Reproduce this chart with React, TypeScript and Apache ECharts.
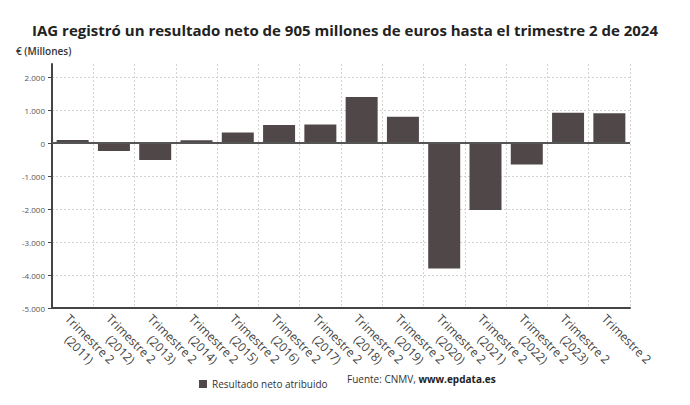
import React, { useEffect, useRef } from "react";
import * as echarts from "echarts";

const categories = [
  "Trimestre 2\n(2011)",
  "Trimestre 2\n(2012)",
  "Trimestre 2\n(2013)",
  "Trimestre 2\n(2014)",
  "Trimestre 2\n(2015)",
  "Trimestre 2\n(2016)",
  "Trimestre 2\n(2017)",
  "Trimestre 2\n(2018)",
  "Trimestre 2\n(2019)",
  "Trimestre 2\n(2020)",
  "Trimestre 2\n(2021)",
  "Trimestre 2\n(2022)",
  "Trimestre 2\n(2023)",
  "Trimestre 2",
];

const resultadoNeto = [95, -235, -515, 90, 323, 550, 565, 1402, 802, -3800, -2025, -645, 924, 905];

const yTicks = { min: -5000, max: 2400, interval: 1000 };

const FONT = "'Open Sans', 'Noto Sans', sans-serif";
const GRID = "#d2d2d2";

export default function App() {
  const ref = useRef<HTMLDivElement>(null);
  useEffect(() => {
    document.body.style.margin = "0";
    if (!ref.current) return;
    const chart = echarts.init(ref.current, null, { renderer: "svg" });
    const nLines = Math.floor((yTicks.max - yTicks.min) / yTicks.interval) + 2;
    const hColors = Array.from({ length: nLines }, (_, i) => (i === nLines - 1 ? "rgba(0,0,0,0)" : GRID));
    chart.setOption({
      animation: false,
      textStyle: { fontFamily: FONT },
      title: {
        text: "IAG registró un resultado neto de 905 millones de euros hasta el trimestre 2 de 2024",
        left: "center",
        top: 17,
        textStyle: { fontSize: 15, fontWeight: "bold", color: "#222", fontFamily: FONT },
      },
      graphic: [
        {
          type: "text",
          left: 16,
          top: 46,
          style: { text: "€ (Millones)", fontSize: 10, fontWeight: 600, fill: "#333", fontFamily: FONT },
        },
        {
          type: "text",
          left: 347,
          top: 374,
          style: {
            text: "{n|Fuente: CNMV, }{b|www.epdata.es}",
            rich: {
              n: { fontSize: 10, fill: "#333", fontFamily: FONT },
              b: { fontSize: 10, fill: "#222", fontWeight: "bold", fontFamily: FONT },
            },
          },
        },
      ],
      legend: {
        left: 194,
        top: 374,
        itemWidth: 8,
        itemHeight: 8,
        itemGap: 4,
        icon: "rect",
        textStyle: { fontSize: 10, color: "#333", fontFamily: FONT },
        data: ["Resultado neto atribuido"],
      },
      grid: { left: 52, right: 60, top: 64, bottom: 97 },
      xAxis: {
        type: "category",
        data: categories,
        boundaryGap: true,
        axisLine: { onZero: false, lineStyle: { color: "#444", width: 2 } },
        axisTick: { alignWithLabel: true, length: 4, lineStyle: { color: "#444" } },
        axisLabel: {
          rotate: -45,
          interval: 0,
          margin: 3,
          verticalAlign: "top",
          align: "left",
          formatter: (v: string) => v.split("\n").map((s) => `{c|${s}}`).join("\n"),
          rich: {
            c: {
              width: 64,
              align: "center",
              fontSize: 12,
              lineHeight: 15,
              color: "#444",
              fontFamily: FONT,
            },
          },
        },
        splitLine: { show: true, lineStyle: { color: GRID, type: [2, 2] } },
      },
      yAxis: {
        type: "value",
        min: yTicks.min,
        max: yTicks.max,
        interval: yTicks.interval,
        axisLine: { show: true, lineStyle: { color: "#444", width: 2 } },
        axisTick: { show: true, length: 4, lineStyle: { color: "#444" } },
        axisLabel: {
          fontSize: 8,
          color: "#555",
          margin: 7,
          showMaxLabel: false,
          fontFamily: FONT,
          formatter: (v: number) => (v === yTicks.max ? "" : v.toLocaleString("de-DE")),
        },
        splitLine: { show: true, lineStyle: { color: hColors, type: [2, 2] } },
      },
      series: [
        {
          name: "Resultado neto atribuido",
          type: "bar",
          data: resultadoNeto,
          barWidth: 32,
          itemStyle: { color: "#504848" },
          markLine: {
            silent: true,
            symbol: "none",
            label: { show: false },
            lineStyle: { color: "#555", width: 2, type: "solid" },
            data: [{ yAxis: 0 }],
          },
        },
      ],
    });
    return () => chart.dispose();
  }, []);
  return <div ref={ref} style={{ width: 690, height: 405 }} />;
}
